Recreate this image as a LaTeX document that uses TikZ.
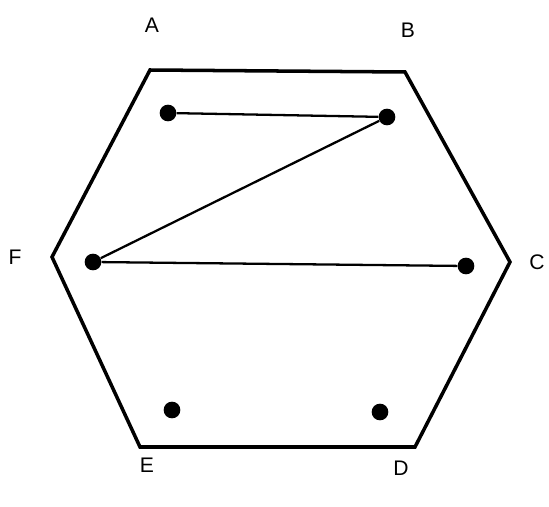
\documentclass[tikz,border=0pt]{standalone}
\usepackage{fontspec}
\setmainfont{Liberation Sans}
\begin{document}
\begin{tikzpicture}[x=0.02cm,y=-0.02cm,
  hexline/.style={line width=2pt,line join=miter},
  conn/.style={line width=1.3pt},
  dot/.style={circle,fill=black,inner sep=0pt,minimum size=9.5pt},
  lab/.style={font=\fontsize{12}{14}\selectfont}]
\useasboundingbox (0,0) rectangle (549,507);
\coordinate (h1) at (150,70);
\coordinate (h2) at (405,72);
\coordinate (h3) at (510,262);
\coordinate (h4) at (415,447);
\coordinate (h5) at (140,447);
\coordinate (h6) at (52,257);
\draw[hexline] (h1) -- (h2) -- (h3) -- (h4) -- (h5) -- (h6) -- cycle;
\node[dot] (a) at (168,113) {};
\node[dot] (b) at (387,117) {};
\node[dot] (f) at (93,262) {};
\node[dot] (c) at (466,266) {};
\node[dot] (e) at (172,410) {};
\node[dot] (d) at (380,412) {};
\draw[conn] (a) -- (b);
\draw[conn] (b) -- (f);
\draw[conn] (f) -- (c);
\node[lab] (la) at (152,25) {A};
\node[lab] (lb) at (408,30) {B};
\node[lab] (lf) at (15,257) {F};
\node[lab] (lc) at (537,262) {C};
\node[lab] (le) at (147,465) {E};
\node[lab] (ld) at (401,468) {D};
\end{tikzpicture}
\end{document}
